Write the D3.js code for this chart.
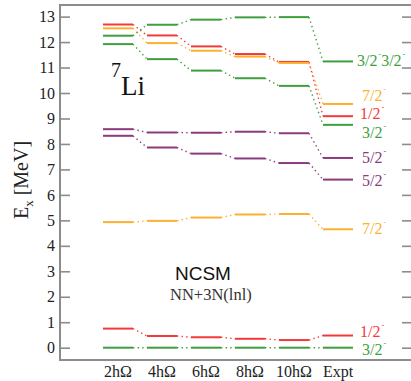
<!DOCTYPE html>
<html>
<head>
<meta charset="utf-8">
<script src="https://cdn.jsdelivr.net/npm/d3@7"></script>
<style>
  body { margin: 0; background: #fff; }
  .chart { width: 411px; height: 381px; }
</style>
</head>
<body>
<div class="chart"></div>
<script>
// model spaces + experiment
const columns = ["2hΩ", "4hΩ", "6hΩ", "8hΩ", "10hΩ", "Expt"];
const yTicks = d3.range(0, 14);

// each state: colour key, spin label, energies per column (MeV)
const states = ["1/2", "7/2", "3/2", "3/2", "5/2", "5/2", "7/2", "1/2", "3/2"];
const stateColor = ["red", "orange", "green", "green", "purple", "purple", "orange", "red", "green"];
const redHigh = [12.69, 12.26, 11.83, 11.53, 11.22, 9.09];
const orangeHigh = [12.54, 11.96, 11.66, 11.43, 11.18, 9.57];
const greenHigh = [12.25, 12.68, 12.88, 12.97, 12.98, 11.24];
const greenMid = [11.92, 11.33, 10.88, 10.58, 10.28, 8.75];
const purpleHigh = [8.58, 8.45, 8.44, 8.48, 8.42, 7.45];
const purpleLow = [8.32, 7.86, 7.62, 7.43, 7.25, 6.60];
const orangeLow = [4.93, 4.98, 5.11, 5.23, 5.25, 4.65];
const redLow = [0.75, 0.46, 0.41, 0.35, 0.30, 0.478];
const groundState = [0, 0, 0, 0, 0, 0];
const series = [redHigh, orangeHigh, greenHigh, greenMid, purpleHigh, purpleLow, orangeLow, redLow, groundState];

const palette = { red: "#f23a3a", orange: "#fdb030", green: "#3f9f3f", purple: "#8a3a7e" };

const width = 411, height = 381;
const svg = d3.select(".chart").append("svg")
    .attr("width", width)
    .attr("height", height);

const box = { left: 60, right: 411, top: 5, bottom: 360 };

const x = d3.scalePoint().domain(columns).range([118, 338]);
const y = d3.scaleLinear().domain([0, 13]).range([347.7, 16.6]);
const half = 15;

// frame
svg.append("path")
    .attr("d", `M${box.right},${box.top}H${box.left}V${box.bottom}H${box.right}`)
    .attr("fill", "none")
    .attr("stroke", "#8c8c8c")
    .attr("stroke-width", 2);

const left = svg.append("g")
    .attr("transform", `translate(${box.left},0)`)
    .call(d3.axisLeft(y).tickValues(yTicks).tickSize(-10).tickPadding(5).tickFormat(d3.format("d")));
left.select(".domain").remove();
left.selectAll(".tick line").attr("stroke", "#8c8c8c").attr("stroke-width", 1.6);
left.selectAll(".tick text")
    .attr("font-family", "Liberation Serif, serif")
    .attr("font-size", 16)
    .attr("fill", "#222");

const right = svg.append("g")
    .attr("transform", `translate(${box.right},0)`)
    .call(d3.axisRight(y).tickValues(yTicks).tickSize(-9).tickFormat(""));
right.select(".domain").remove();
right.selectAll(".tick line").attr("stroke", "#8c8c8c").attr("stroke-width", 1.6);

// column labels
svg.append("g").selectAll("text")
    .data(columns)
    .join("text")
    .attr("x", d => x(d))
    .attr("y", 377)
    .attr("text-anchor", "middle")
    .attr("font-family", "Liberation Serif, serif")
    .attr("font-size", 16)
    .attr("fill", "#222")
    .text(d => d);

// y label
svg.append("text")
    .attr("transform", "translate(28,180) rotate(-90)")
    .attr("text-anchor", "middle")
    .attr("font-family", "Liberation Serif, serif")
    .attr("font-size", 20)
    .attr("fill", "#222")
    .call(t => {
        t.append("tspan").text("E");
        t.append("tspan").attr("font-size", 13).attr("dy", 5).text("x");
        t.append("tspan").attr("dy", -5).text(" [MeV]");
    });

// levels and connectors
const plot = svg.append("g");
series.forEach((vals, i) => {
    const col = palette[stateColor[i]];
    const g = plot.append("g");
    g.selectAll("line.level")
        .data(vals)
        .join("line")
        .attr("class", "level")
        .attr("x1", (d, j) => x(columns[j]) - half)
        .attr("x2", (d, j) => x(columns[j]) + half)
        .attr("y1", d => y(d))
        .attr("y2", d => y(d))
        .attr("stroke", col)
        .attr("stroke-width", 2);
    g.selectAll("line.link")
        .data(d3.pairs(vals))
        .join("line")
        .attr("class", "link")
        .attr("x1", (d, j) => x(columns[j]) + half)
        .attr("x2", (d, j) => x(columns[j + 1]) - half)
        .attr("y1", d => y(d[0]))
        .attr("y2", d => y(d[1]))
        .attr("stroke", col)
        .attr("stroke-width", 1.4)
        .attr("stroke-dasharray", "1.4,3.2");
});

// spin labels next to experiment (pixel nudges keep them apart)
const labelNudge = [3, -3, 5, 13, 5, 6, 5, 1.5, 7];
const labelX = [360, 362, 357, 362, 362, 362, 362, 360, 362];
function spin(sel, s, first) {
    sel.append("tspan").attr("dy", first ? 0 : 9).text(s);
    sel.append("tspan").attr("font-size", 8).attr("dy", -9).attr("dx", 1).text("-");
}
series.forEach((vals, i) => {
    const t = svg.append("text")
        .attr("x", labelX[i])
        .attr("y", y(vals[vals.length - 1]) + labelNudge[i])
        .attr("font-family", "Liberation Serif, serif")
        .attr("font-size", 16)
        .attr("fill", palette[stateColor[i]]);
    spin(t, states[i], true);
    if (i === 2) spin(t, states[i], false);
});

// annotations
const li = svg.append("text")
    .attr("x", 111)
    .attr("y", 95)
    .attr("font-family", "Liberation Serif, serif")
    .attr("fill", "#111");
li.append("tspan").attr("font-size", 20).attr("dy", -18).text("7");
li.append("tspan").attr("font-size", 27).attr("dy", 18).text("Li");

svg.append("text")
    .attr("x", 175)
    .attr("y", 280)
    .attr("font-family", "Liberation Sans, sans-serif")
    .attr("font-size", 19)
    .attr("fill", "#111")
    .text("NCSM");

svg.append("text")
    .attr("x", 170)
    .attr("y", 300)
    .attr("font-family", "Liberation Serif, serif")
    .attr("font-size", 16.5)
    .attr("fill", "#333")
    .text("NN+3N(lnl)");
</script>
</body>
</html>
